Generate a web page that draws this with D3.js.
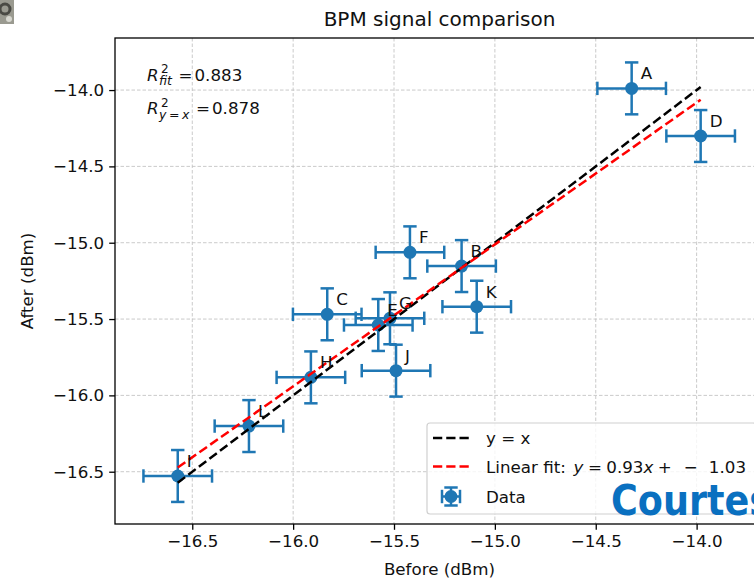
<!DOCTYPE html>
<html><head><meta charset="utf-8">
<script src="https://cdn.jsdelivr.net/npm/d3@7"></script>
<style>body{margin:0;background:#fff;overflow:hidden}svg{display:block}text{font-family:"DejaVu Sans",sans-serif}</style>
</head><body>
<svg id="c" width="754" height="580"></svg>
<script>
// ---- data ----
const labels    = ["A","B","C","D","E","F","G","H","I","J","K","L"];
const before    = [-14.322,-15.165,-15.831,-13.980,-15.578,-15.421,-15.520,-15.912,-16.572,-15.490,-15.090,-16.219];
const after     = [-13.989,-15.153,-15.469,-14.301,-15.539,-15.063,-15.495,-15.882,-16.528,-15.838,-15.419,-16.201];
const beforeErr = [0.17,0.17,0.17,0.17,0.17,0.17,0.17,0.17,0.17,0.17,0.17,0.17];
const afterErr  = [0.17,0.17,0.17,0.17,0.17,0.17,0.17,0.17,0.17,0.17,0.17,0.17];
const xTicks = [-16.5,-16.0,-15.5,-15.0,-14.5,-14.0];
const yTicks = [-14.0,-14.5,-15.0,-15.5,-16.0,-16.5];
const xLimits = [-16.883,-13.666];
const yLimits = [-16.8425,-13.659];
const r2FitText = "0.883";
const r2IdText = "0.878";
const fitSlopeText = "0.93";
const fitInterceptText = "1.03";

// ---- layout ----
const L = 115, R = 764, T = 38, B = 524;
const svg = d3.select("#c");
const x = d3.scaleLinear().domain(xLimits).range([L, R]);
const y = d3.scaleLinear().domain(yLimits).range([B, T]);
const blue = "#1f77b4";
const fs = 16.7;

// corner icon
const ic = svg.append("g");
ic.append("rect").attr("x",0).attr("y",0).attr("width",14).attr("height",24).attr("fill","#9a9a90");
ic.append("circle").attr("cx",5).attr("cy",9).attr("r",5).attr("fill","none").attr("stroke","#4a4a44").attr("stroke-width",3);
ic.append("circle").attr("cx",9).attr("cy",19).attr("r",3).attr("fill","#d8d8d0");

// grid
const grid = svg.append("g");
xTicks.forEach(t => grid.append("line").attr("x1",x(t)).attr("x2",x(t)).attr("y1",T).attr("y2",B)
  .attr("stroke","#c4c4c4").attr("stroke-width",0.9).attr("stroke-dasharray","3.5,2"));
yTicks.forEach(t => grid.append("line").attr("y1",y(t)).attr("y2",y(t)).attr("x1",L).attr("x2",R)
  .attr("stroke","#c4c4c4").attr("stroke-width",0.9).attr("stroke-dasharray","3.5,2"));

// error bars + points
const cap = 6.7;
const eb = svg.append("g").attr("stroke",blue).attr("stroke-width",2.5).attr("fill","none");
labels.forEach((lab,i) => {
  const cx = x(before[i]), cy = y(after[i]);
  const x0 = x(before[i]-beforeErr[i]), x1 = x(before[i]+beforeErr[i]);
  const y0 = y(after[i]-afterErr[i]), y1 = y(after[i]+afterErr[i]);
  eb.append("line").attr("x1",x0).attr("x2",x1).attr("y1",cy).attr("y2",cy);
  eb.append("line").attr("x1",cx).attr("x2",cx).attr("y1",y0).attr("y2",y1);
  [x0,x1].forEach(xx => eb.append("line").attr("x1",xx).attr("x2",xx).attr("y1",cy-cap).attr("y2",cy+cap));
  [y0,y1].forEach(yy => eb.append("line").attr("y1",yy).attr("y2",yy).attr("x1",cx-cap).attr("x2",cx+cap));
});
svg.append("g").selectAll("circle").data(labels).join("circle")
  .attr("cx",(d,i)=>x(before[i])).attr("cy",(d,i)=>y(after[i])).attr("r",6.5).attr("fill",blue);

// lines y=x and least-squares fit
const xmin = d3.min(before), xmax = d3.max(before);
const mx = d3.mean(before), my = d3.mean(after);
let sxy = 0, sxx = 0;
before.forEach((b,i)=>{ sxy += (b-mx)*(after[i]-my); sxx += (b-mx)*(b-mx); });
const slope = sxy/sxx, icpt = my - slope*mx;
const line = d3.line().x(d=>x(d[0])).y(d=>y(d[1]));
svg.append("path").attr("d",line([[xmin,xmin],[xmax,xmax]])).attr("stroke","#000").attr("stroke-width",2.5)
  .attr("fill","none").attr("stroke-dasharray","9.25,4");
svg.append("path").attr("d",line([[xmin,slope*xmin+icpt],[xmax,slope*xmax+icpt]])).attr("stroke","#ff0000").attr("stroke-width",2.5)
  .attr("fill","none").attr("stroke-dasharray","9.25,4");

// point labels
svg.append("g").selectAll("text").data(labels).join("text")
  .attr("x",(d,i)=>x(before[i])+9).attr("y",(d,i)=>y(after[i])-9)
  .attr("font-size",fs).attr("fill","#111").text(d=>d);

// axes
const xAxis = d3.axisBottom(x).tickValues(xTicks).tickFormat(d3.format(".1f")).tickSize(5.8).tickPadding(5);
const yAxis = d3.axisLeft(y).tickValues(yTicks).tickFormat(d3.format(".1f")).tickSize(5.8).tickPadding(5);
const gx = svg.append("g").attr("transform",`translate(0,${B})`).call(xAxis);
const gy = svg.append("g").attr("transform",`translate(${L},0)`).call(yAxis);
[gx,gy].forEach(g=>{
  g.select(".domain").remove();
  g.selectAll(".tick line").attr("stroke","#000").attr("stroke-width",1.3);
  g.selectAll(".tick text").attr("font-size",fs).attr("fill","#111").attr("font-family","DejaVu Sans");
});
svg.append("rect").attr("x",L).attr("y",T).attr("width",R-L).attr("height",B-T)
  .attr("fill","none").attr("stroke","#000").attr("stroke-width",1.3);

// titles
svg.append("text").attr("x",(L+R)/2).attr("y",26).attr("text-anchor","middle").attr("font-size",20).attr("fill","#111").text("BPM signal comparison");
svg.append("text").attr("x",(L+R)/2).attr("y",574.5).attr("text-anchor","middle").attr("font-size",fs).attr("fill","#111").text("Before (dBm)");
svg.append("text").attr("transform",`translate(33,${(T+B)/2}) rotate(-90)`).attr("text-anchor","middle").attr("font-size",fs).attr("fill","#111").text("After (dBm)");

// R^2 annotations
function r2(base, subParts, eqX, valX, val){
  const g = svg.append("g").attr("fill","#111");
  g.append("text").attr("x",147).attr("y",base).attr("font-size",fs).attr("font-style","italic").text("R");
  g.append("text").attr("x",161).attr("y",base-7.5).attr("font-size",12).text("2");
  const sub = g.append("text").attr("x",159).attr("y",base+4.5).attr("font-size",12.5);
  subParts.forEach(s=> sub.append("tspan").attr("font-style",s[1]?"italic":"normal").text(s[0]));
  g.append("text").attr("x",eqX).attr("y",base).attr("font-size",fs).text("=");
  g.append("text").attr("x",valX).attr("y",base).attr("font-size",fs).text(val);
}
r2(80.5, [["fit",true]], 178.5, 194.5, r2FitText);
r2(114, [["y",true],["\u2009=\u2009",false],["x",true]], 196, 212, r2IdText);

// legend
const lg = svg.append("g");
lg.append("rect").attr("x",427).attr("y",423).attr("width",329).attr("height",91).attr("rx",3)
  .attr("fill","#fff").attr("fill-opacity",0.8).attr("stroke","#d0d0d0").attr("stroke-width",1.2);
lg.append("line").attr("x1",433).attr("x2",469).attr("y1",438).attr("y2",438).attr("stroke","#000").attr("stroke-width",2.5).attr("stroke-dasharray","9.25,4");
lg.append("line").attr("x1",433).attr("x2",469).attr("y1",466.5).attr("y2",466.5).attr("stroke","#ff0000").attr("stroke-width",2.5).attr("stroke-dasharray","9.25,4");
const hx = 451, hy = 496.5, hh = 9;
const lh = lg.append("g").attr("stroke",blue).attr("stroke-width",2.5);
lh.append("line").attr("x1",hx-hh).attr("x2",hx+hh).attr("y1",hy).attr("y2",hy);
lh.append("line").attr("x1",hx).attr("x2",hx).attr("y1",hy-hh).attr("y2",hy+hh);
[hx-hh,hx+hh].forEach(xx=>lh.append("line").attr("x1",xx).attr("x2",xx).attr("y1",hy-cap).attr("y2",hy+cap));
[hy-hh,hy+hh].forEach(yy=>lh.append("line").attr("y1",yy).attr("y2",yy).attr("x1",hx-cap).attr("x2",hx+cap));
lg.append("circle").attr("cx",hx).attr("cy",hy).attr("r",6.5).attr("fill",blue);
lg.append("text").attr("x",486).attr("y",444).attr("font-size",fs).attr("fill","#111").text("y = x");

// fit label: pieces laid out sequentially with weighted gaps
const pieces = [
  ["Linear fit:", false, 0], ["y", true, 1.4], ["=", false, 0.8], [fitSlopeText, false, 0.8],
  ["x", true, 0], ["+", false, 0.8], ["\u2212", false, 2.2], [fitInterceptText, false, 2.0]
];
const ftStart = 486, ftEnd = 746;
const widths = pieces.map(p => {
  const t = lg.append("text").attr("font-size",fs).attr("font-style",p[1]?"italic":"normal").text(p[0]);
  const w = t.node().getComputedTextLength(); t.remove(); return w;
});
const gapUnit = (ftEnd - ftStart - d3.sum(widths)) / d3.sum(pieces, p=>p[2]);
let cur = ftStart;
pieces.forEach((p,i) => {
  cur += p[2]*gapUnit;
  lg.append("text").attr("x",cur).attr("y",473).attr("font-size",fs).attr("fill","#111")
    .attr("font-style",p[1]?"italic":"normal").text(p[0]);
  cur += widths[i];
});
lg.append("text").attr("x",486).attr("y",503).attr("font-size",fs).attr("fill","#111").text("Data");

// watermark
svg.append("text").attr("transform","translate(611,515) scale(0.87,1)").attr("font-family","Lato, 'Open Sans', sans-serif").attr("font-weight","bold")
  .attr("font-size",42).attr("fill","#0a70c0").text("Courtesy");
</script>
</body></html>
